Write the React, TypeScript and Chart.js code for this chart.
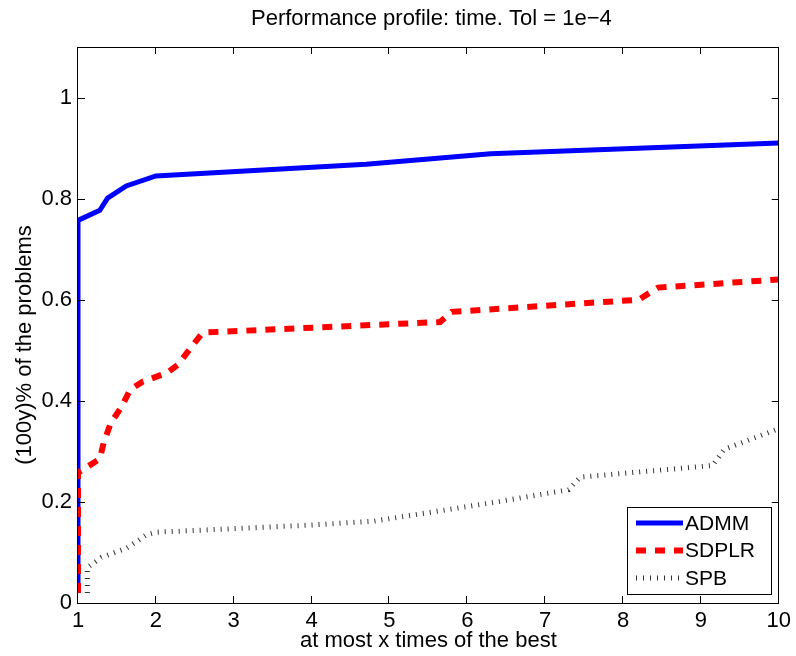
import { useEffect, useRef } from 'react';
import { Chart, registerables } from 'chart.js';

Chart.register(...registerables);

const titleText = 'Performance profile: time. Tol = 1e−4';
const xAxisLabel = 'at most x times of the best';
const yAxisLabel = '(100y)% of the problems';
const xTicks = [1, 2, 3, 4, 5, 6, 7, 8, 9, 10];
const yTicks = [0, 0.2, 0.4, 0.6, 0.8, 1];
const seriesNames = ['ADMM', 'SDPLR', 'SPB'];

const admmX = [1, 1, 1.28, 1.38, 1.62, 2.0, 4.7, 6.3, 10];
const admmY = [0.02, 0.757, 0.777, 0.801, 0.825, 0.845, 0.868, 0.889, 0.91];

const sdplrX = [1, 1, 1.28, 1.33, 1.42, 1.56, 1.67, 1.83, 2.14, 2.28, 2.6, 5.65, 5.8, 8.2, 8.45, 10];
const sdplrY = [0.02, 0.258, 0.285, 0.317, 0.356, 0.388, 0.422, 0.438, 0.455, 0.471, 0.535, 0.556, 0.576, 0.6, 0.624, 0.64];

const spbX = [1.12, 1.12, 1.3, 1.63, 1.88, 2.0, 3.97, 4.8, 6.3, 7.3, 7.45, 9.15, 9.3, 10];
const spbY = [0.02, 0.07, 0.09, 0.109, 0.135, 0.14, 0.154, 0.162, 0.198, 0.224, 0.249, 0.272, 0.304, 0.345];

const FONT = '"Liberation Sans", Arial, Helvetica, sans-serif';
const FONT_SIZE = 22;

const toPoints = (xs: number[], ys: number[]) => xs.map((x, i) => ({ x, y: ys[i] }));

const styles = [
  { color: '#0000ff', width: 5, dash: [] as number[] },
  { color: '#ff0000', width: 6, dash: [10, 9] },
  { color: '#333333', width: 5, dash: [1, 6] },
];

const framePlugin = {
  id: 'frameAndLegend',
  afterDraw(chart: any) {
    const { ctx, chartArea } = chart;
    const { left, right, top, bottom } = chartArea;
    const xs = chart.scales.x;
    const ys = chart.scales.y;
    ctx.save();
    ctx.strokeStyle = '#000';
    ctx.lineWidth = 1;
    ctx.setLineDash([]);
    ctx.strokeRect(Math.round(left) - 0.5, Math.round(top) + 0.5, Math.round(right - left), Math.round(bottom - top));
    const tl = 7;
    ctx.beginPath();
    xTicks.forEach((v) => {
      const px = Math.round(xs.getPixelForValue(v)) - 0.5;
      ctx.moveTo(px, bottom);
      ctx.lineTo(px, bottom - tl);
      ctx.moveTo(px, top);
      ctx.lineTo(px, top + tl);
    });
    yTicks.forEach((v) => {
      const py = Math.round(ys.getPixelForValue(v)) + 0.5;
      ctx.moveTo(left, py);
      ctx.lineTo(left + tl, py);
      ctx.moveTo(right, py);
      ctx.lineTo(right - tl, py);
    });
    ctx.stroke();

    // titles
    const cx = (left + right) / 2;
    const cy = (top + bottom) / 2;
    ctx.fillStyle = '#000';
    ctx.font = `${FONT_SIZE}px ${FONT}`;
    ctx.textAlign = 'center';
    ctx.textBaseline = 'middle';
    ctx.fillText(titleText, cx + 3, 19);
    ctx.fillText(xAxisLabel, cx, 641);
    ctx.save();
    ctx.translate(25, cy + 20);
    ctx.rotate(-Math.PI / 2);
    ctx.fillText(yAxisLabel, 0, 0);
    ctx.restore();

    // legend
    const bw = 144;
    const bh = 87;
    const bx = Math.round(right) - 8 - bw;
    const by = Math.round(bottom) - 9 - bh;
    ctx.fillStyle = '#fff';
    ctx.fillRect(bx, by, bw, bh);
    ctx.strokeStyle = '#000';
    ctx.lineWidth = 1;
    ctx.strokeRect(bx + 0.5, by + 0.5, bw, bh);
    ctx.font = `21px ${FONT}`;
    ctx.textBaseline = 'middle';
    ctx.textAlign = 'left';
    seriesNames.forEach((name, i) => {
      const ly = by + 16 + i * 27.5;
      const st = styles[i];
      ctx.beginPath();
      ctx.strokeStyle = st.color;
      ctx.lineWidth = st.width;
      ctx.lineCap = 'butt';
      ctx.setLineDash(st.dash);
      ctx.moveTo(bx + 9, ly);
      ctx.lineTo(bx + 56, ly);
      ctx.stroke();
      ctx.setLineDash([]);
      ctx.fillStyle = '#000';
      ctx.fillText(name, bx + 58, ly + 1);
    });
    ctx.restore();
  },
};

export default function App() {
  const canvasRef = useRef<HTMLCanvasElement | null>(null);

  useEffect(() => {
    const canvas = canvasRef.current;
    if (!canvas) return;
    const font = { family: FONT, size: FONT_SIZE, weight: 'normal' as const };
    const data = [toPoints(admmX, admmY), toPoints(sdplrX, sdplrY), toPoints(spbX, spbY)];
    const chart = new Chart(canvas, {
      type: 'line',
      data: {
        datasets: seriesNames.map((name, i) => ({
          label: name,
          data: data[i],
          borderColor: styles[i].color,
          backgroundColor: styles[i].color,
          borderWidth: styles[i].width,
          borderDash: styles[i].dash,
          borderCapStyle: 'butt' as const,
          pointRadius: 0,
          tension: 0,
          fill: false,
          clip: 0,
          order: 3 - i,
        })),
      },
      options: {
        animation: false,
        responsive: false,
        devicePixelRatio: 1,
        parsing: false,
        layout: { padding: { left: 0, right: 15, top: 47, bottom: 0 } },
        plugins: {
          legend: { display: false },
          tooltip: { enabled: false },
          title: { display: false },
        },
        scales: {
          x: {
            type: 'linear',
            min: 1,
            max: 10,
            afterBuildTicks: (s: any) => {
              s.ticks = xTicks.map((v) => ({ value: v }));
            },
            afterFit: (s: any) => {
              s.height = 53;
            },
            grid: { display: false, drawTicks: false },
            border: { display: false },
            ticks: {
              color: '#000',
              font,
              padding: 5,
              maxRotation: 0,
              autoSkip: false,
              callback: (v: any) => String(v),
            },
          },
          y: {
            type: 'linear',
            min: 0,
            max: 1.1,
            afterBuildTicks: (s: any) => {
              s.ticks = yTicks.map((v) => ({ value: v }));
            },
            afterFit: (s: any) => {
              s.width = 78;
            },
            grid: { display: false, drawTicks: false },
            border: { display: false },
            ticks: {
              color: '#000',
              font,
              padding: 6,
              autoSkip: false,
              callback: (v: any) => String(Math.round(Number(v) * 10) / 10),
            },
          },
        },
      },
      plugins: [framePlugin],
    });
    return () => chart.destroy();
  }, []);

  return (
    <div style={{ position: 'absolute', left: 0, top: 0, width: 796, height: 656, background: '#fff' }}>
      <canvas ref={canvasRef} width={796} height={656} style={{ display: 'block', width: 796, height: 656 }} />
    </div>
  );
}
